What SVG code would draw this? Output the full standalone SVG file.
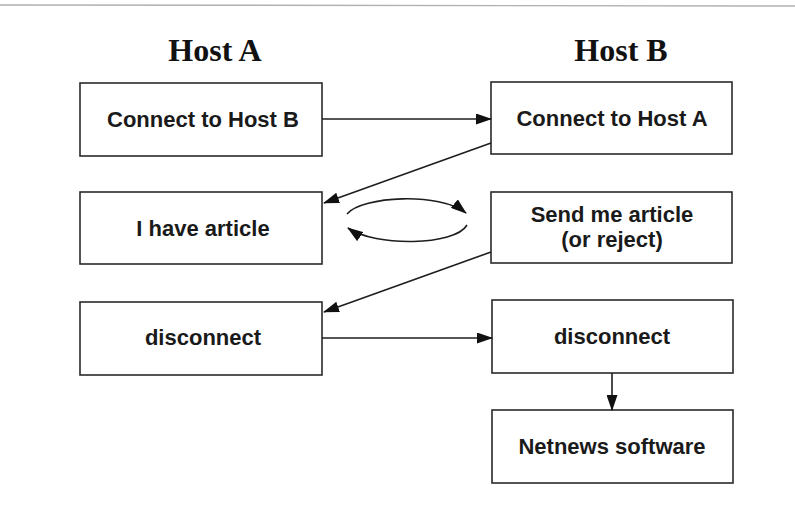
<svg xmlns="http://www.w3.org/2000/svg" width="795" height="518" viewBox="0 0 795 518">
<style>
  .box { fill: #ffffff; stroke: #2a2a2a; stroke-width: 1.6; }
  .lbl { font-family: "Liberation Sans", Arial, sans-serif; font-weight: bold; font-size: 22px; fill: #1a1a1a; text-anchor: middle; }
  .title { font-family: "Liberation Serif", "Times New Roman", serif; font-weight: bold; font-size: 32px; fill: #111; text-anchor: middle; }
  .conn { fill: none; stroke: #1e1e1e; stroke-width: 1.6; }
</style>
<defs>
  <marker id="ah" viewBox="0 0 16 11" refX="15" refY="5.5" markerWidth="16" markerHeight="11" markerUnits="userSpaceOnUse" orient="auto">
    <path d="M0,0 L16,5.5 L0,11 Z" fill="#111"/>
  </marker>
</defs>
<rect width="795" height="518" fill="#ffffff"/>
<line x1="0" y1="5" x2="795" y2="6" stroke="#b0b0b0" stroke-width="1.4"/>
<text class="title" x="215" y="61">Host A</text>
<text class="title" x="621" y="61">Host B</text>

<g id="a1"><rect class="box" x="80" y="83" width="242" height="73"/><text class="lbl" x="203" y="127">Connect to Host B</text></g>
<g id="a2"><rect class="box" x="80" y="192" width="242" height="72"/><text class="lbl" x="203" y="236">I have article</text></g>
<g id="a3"><rect class="box" x="80" y="302" width="242" height="73"/><text class="lbl" x="203" y="345">disconnect</text></g>
<g id="b1"><rect class="box" x="491" y="82" width="241" height="72"/><text class="lbl" x="612" y="126">Connect to Host A</text></g>
<g id="b2"><rect class="box" x="491" y="192" width="241" height="71"/><text class="lbl" x="612" y="222">Send me article</text><text class="lbl" x="612" y="247">(or reject)</text></g>
<g id="b3"><rect class="box" x="492" y="300" width="241" height="73"/><text class="lbl" x="612" y="344">disconnect</text></g>
<g id="b4"><rect class="box" x="492" y="410" width="241" height="73"/><text class="lbl" x="612" y="454">Netnews software</text></g>

<g id="connectors">
  <line class="conn" x1="322" y1="119" x2="491" y2="119" marker-end="url(#ah)"/>
  <line class="conn" x1="491" y1="143" x2="324" y2="203" marker-end="url(#ah)"/>
  <path class="conn" d="M347,214 C362,196 440,192 466,213" marker-end="url(#ah)"/>
  <path class="conn" d="M467,225 C455,246 375,247 348,228" marker-end="url(#ah)"/>
  <line class="conn" x1="491" y1="252" x2="324" y2="312" marker-end="url(#ah)"/>
  <line class="conn" x1="322" y1="338" x2="492" y2="338" marker-end="url(#ah)"/>
  <line class="conn" x1="612" y1="373" x2="612" y2="410" marker-end="url(#ah)"/>
</g>
</svg>
